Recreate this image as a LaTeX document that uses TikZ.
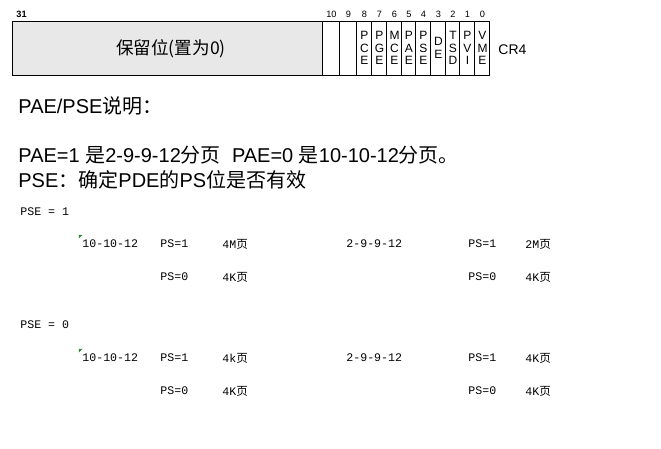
\documentclass[tikz,border=0pt]{standalone}
\usepackage{fontspec}
\setmainfont{Liberation Sans}
\newfontfamily\cjk{Noto Sans CJK SC}
\newfontfamily\simmono{Liberation Mono}
\definecolor{regfill}{HTML}{E8E8E8}
\definecolor{tagmark}{HTML}{2E8B2E}
\tikzset{
  bitcell/.style={
    draw,
    line width=0.5pt
  },
  bitnum/.style={
    font=\fontsize{4.6}{5}\selectfont,
    inner sep=0pt
  },
  flagname/.style={
    font=\fontsize{6}{6.3}\selectfont,
    align=center,
    inner sep=0pt
  },
  note/.style={
    font=\fontsize{10}{12}\selectfont,
    anchor=west,
    inner sep=0pt
  },
  mode/.style={
    font=\simmono\fontsize{5.8}{7}\selectfont,
    anchor=west,
    inner sep=0pt
  }
}
\begin{document}
\begin{tikzpicture}[x=0.5pt,y=-0.5pt]
        \useasboundingbox (0,0) rectangle (661,449);

        % CR4 register
        \draw[bitcell, fill=regfill] (13,22) rectangle (323,76);
        \node[bitnum, anchor=west] (bit31) at (16,14) {\textbf{31}};
        \node[inner sep=0pt, font=\cjk\fontsize{8.8}{9}\selectfont] (reserved) at (171,49) {保留位(置为0)};

        \foreach \xa/\xb/\bit/\flag in {323/340/10/{}, 340/357/9/{}, 357/372/8/{P\\C\\E},
            372/387/7/{P\\G\\E}, 387/402/6/{M\\C\\E}, 402/416/5/{P\\A\\E},
            416/431/4/{P\\S\\E}, 431/446/3/{D\\E}, 446/460/2/{T\\S\\D},
            460/475/1/{P\\V\\I}, 475/490/0/{V\\M\\E}}
        {
            \draw[bitcell] (\xa,22) rectangle (\xb,76);
            \node[bitnum] (bit\bit) at ({(\xa+\xb)/2},14) {\bit};
            \node[flagname] (flag\bit) at ({(\xa+\xb)/2},48) {\flag};
        }
        \node[anchor=west, inner sep=0pt, font=\fontsize{7}{7}\selectfont] (cr4) at (498,50) {CR4};

        % PAE/PSE notes
        \node[note] (title) at (18,106) {PAE/PSE{\cjk 说明：}};
        \node[note] (paeline) at (18,155) {PAE=1 {\cjk 是}2-9-9-12{\cjk 分页}\ \ PAE=0 {\cjk 是}10-10-12{\cjk 分页。}};
        \node[note] (pseline) at (18,180) {PSE{\cjk ：确定}PDE{\cjk 的}PS{\cjk 位是否有效}};

        % PSE = 1
        \node[mode] (pseone) at (20,212) {PSE = 1};
        \fill[tagmark] (79,235) -- (82.5,235) -- (79,238.5) -- cycle;
        \node[mode] (aone) at (82,244) {10-10-12};
        \node[mode] (aonepsone) at (160,244) {PS=1};
        \node[mode] (aonesizeone) at (222,244) {4M{\cjk 页}};
        \node[mode] (aonepszero) at (160,277) {PS=0};
        \node[mode] (aonesizezero) at (222,277) {4K{\cjk 页}};
        \node[mode] (bone) at (346,244) {2-9-9-12};
        \node[mode] (bonepsone) at (468,244) {PS=1};
        \node[mode] (bonesizeone) at (525,244) {2M{\cjk 页}};
        \node[mode] (bonepszero) at (468,277) {PS=0};
        \node[mode] (bonesizezero) at (525,277) {4K{\cjk 页}};

        % PSE = 0
        \node[mode] (psezero) at (20,325) {PSE = 0};
        \fill[tagmark] (79,349) -- (82.5,349) -- (79,352.5) -- cycle;
        \node[mode] (azero) at (82,358) {10-10-12};
        \node[mode] (azeropsone) at (160,358) {PS=1};
        \node[mode] (azerosizeone) at (222,358) {4k{\cjk 页}};
        \node[mode] (azeropszero) at (160,391) {PS=0};
        \node[mode] (azerosizezero) at (222,391) {4K{\cjk 页}};
        \node[mode] (bzero) at (346,358) {2-9-9-12};
        \node[mode] (bzeropsone) at (468,358) {PS=1};
        \node[mode] (bzerosizeone) at (525,358) {4K{\cjk 页}};
        \node[mode] (bzeropszero) at (468,391) {PS=0};
        \node[mode] (bzerosizezero) at (525,391) {4K{\cjk 页}};
\end{tikzpicture}
\end{document}
